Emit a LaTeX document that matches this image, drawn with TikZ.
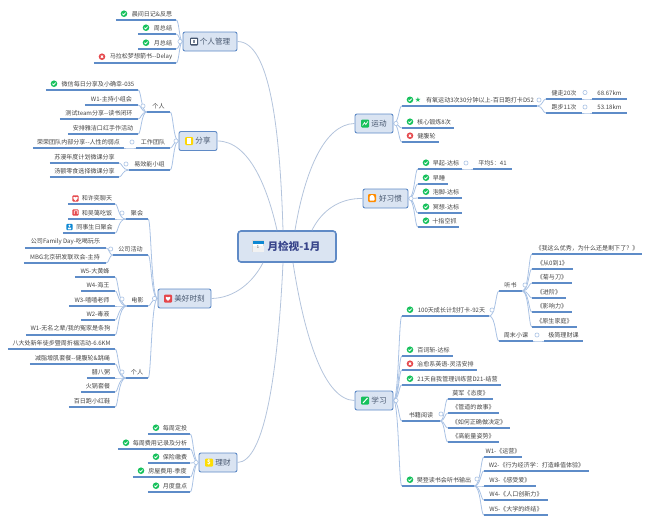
\documentclass[tikz,border=0pt]{standalone}
\usepackage{fontspec}
\setmainfont{Noto Sans CJK SC}
\usetikzlibrary{calc}
\definecolor{uline}{HTML}{5E8CC8}
\definecolor{brline}{HTML}{A9C2E4}
\definecolor{rtline}{HTML}{B4C4DC}
\definecolor{boxfill}{HTML}{DAE4F2}
\definecolor{boxdraw}{HTML}{5F8AC6}
\definecolor{txt}{HTML}{444444}
\definecolor{toptxt}{HTML}{46566E}
\definecolor{oki}{HTML}{16C15C}
\definecolor{noi}{HTML}{E5474B}
\tikzset{
  x=1pt,y=-1pt,
  leaf/.style={anchor=south,inner sep=0pt,minimum height=12pt,font=\fontsize{6.05}{7}\selectfont,text=txt},
  ulinepath/.style={draw=uline,line width=1.1pt},
  conn/.style={draw=brline,line width=.8pt},
  rootconn/.style={draw=rtline,line width=.8pt},
  topic/.style={draw=boxdraw,fill=boxfill,rounded corners=2pt,line width=.9pt,inner sep=0pt,minimum height=19pt,font=\fontsize{7.6}{9}\selectfont,text=toptxt},
  rootbox/.style={draw=boxdraw,fill=boxfill,rounded corners=3pt,line width=1.6pt,inner sep=0pt,minimum width=98pt,minimum height=31pt,font=\fontsize{10.6}{12}\bfseries\selectfont,text=toptxt!80!blue},
  knob/.style={circle,draw=brline,fill=white,line width=.6pt,inner sep=0pt,minimum size=4.2pt},
  ic/.style={rounded corners=1pt}
}
% leaves
\newcommand\lf[5]{\node[leaf,minimum width={#3-#2}] (#1) at ({(#2+#3)/2},#4) {#5};\draw[ulinepath] (#1.south west) -- (#1.south east);}
\newcommand\okat[2]{\begin{scope}[shift={(#1,#2)}]\fill[oki] (0,0) circle (3.3);\draw[white,line width=.8pt] (-1.6,0) -- (-.4,1.2) -- (1.7,-1.1);\end{scope}}
\newcommand\noat[2]{\begin{scope}[shift={(#1,#2)}]\fill[noi] (0,0) circle (3.3);\draw[white,line width=.8pt] (-1.2,-1.2) -- (1.2,1.2) (-1.2,1.2) -- (1.2,-1.2);\end{scope}}
\newcommand\lfok[5]{\lf{#1}{#2}{#3}{#4}{\hspace*{12pt}#5}\okat{#2+8}{#4-6.3}}
\newcommand\lfno[5]{\lf{#1}{#2}{#3}{#4}{\hspace*{12pt}#5}\noat{#2+8}{#4-6.3}}
% connectors
\newcommand\cR[2]{\draw[conn] (#1) .. controls ([xshift=-3pt]#2.south west |- #1) and ([xshift=-3pt]#2.south west) .. (#2.south west);}
\newcommand\cL[2]{\draw[conn] (#1) .. controls ([xshift=3pt]#2.south east |- #1) and ([xshift=3pt]#2.south east) .. (#2.south east);}
\newcommand\sq[4]{\fill[#4,ic] (#1-#3,#2-#3) rectangle (#1+#3,#2+#3);}
\begin{document}
\begin{tikzpicture}
\useasboundingbox (0,0) rectangle (650,522);
% ---------- root and topics
\node[rootbox] (root) at (287,246.5) {\hspace*{14pt}月检视-1月};
\node[topic,minimum width=54pt] (geren) at (210,41.5) {\hspace*{10pt}个人管理};
\node[topic,minimum width=38pt] (fenxiang) at (198,141) {\hspace*{10pt}分享};
\node[topic,minimum width=53pt] (meihao) at (184.5,298.5) {\hspace*{10pt}美好时刻};
\node[topic,minimum width=38pt] (licai) at (218,462.5) {\hspace*{10pt}理财};
\node[topic,minimum width=38pt] (yundong) at (374,123.5) {\hspace*{10pt}运动};
\node[topic,minimum width=45pt] (xiguan) at (385.5,198.5) {\hspace*{10pt}好习惯};
\node[topic,minimum width=38pt] (xuexi) at (374,400.5) {\hspace*{10pt}学习};
% root connectors
\draw[rootconn] (geren.east) .. controls (270,41.5) and (280,130) .. ([xshift=-4pt]root.north);
\draw[rootconn] (fenxiang.east) .. controls (250,141) and (268,190) .. ([xshift=-10pt]root.north);
\draw[rootconn] (yundong.west) .. controls (325,124) and (305,170) .. ([xshift=8pt]root.north);
\draw[rootconn] (xiguan.west) .. controls (340,198) and (322,210) .. ([xshift=25pt]root.north);
\draw[rootconn] (meihao.east) .. controls (235,298) and (253,282) .. ([xshift=-24pt]root.south);
\draw[rootconn] (licai.east) .. controls (265,462) and (278,370) .. ([xshift=-4pt]root.south);
\draw[rootconn] (xuexi.west) .. controls (325,400) and (305,340) .. ([xshift=6pt]root.south);
% topic icons
\begin{scope}[shift={(258,246)}]
  \fill[white,draw=black!15,line width=.2pt] (-5.5,-5.5) rectangle (5.5,5.5);
  \fill[black!5] (-5.5,0) rectangle (5.5,5.5);
  \fill[cyan!70!blue] (-5.5,-5.5) rectangle (5.5,-2.2);
  \node[inner sep=0pt,font=\fontsize{4}{4}\selectfont,text=black!70] (calone) at (0,1.5) {1};
\end{scope}
\begin{scope}[shift={(194,41.5)}]
  \fill[toptxt,ic] (-4,-4) rectangle (4,4);\fill[white] (-2.6,-2.6) rectangle (2.6,2.6);\fill[toptxt!70] (-1.2,-1.2) rectangle (1.2,1.2);
\end{scope}
\begin{scope}[shift={(189,141)}]
  \fill[yellow!75!orange,ic] (-4,-4) rectangle (4,4);\fill[white] (-1.8,-3) rectangle (-.4,3);\fill[white] (.4,-3) rectangle (1.8,3);
\end{scope}
\newcommand\heartat[2]{\begin{scope}[shift={(#1,#2)}]\fill[white] (0,2.4) .. controls (-4,-.4) and (-2,-3) .. (0,-1.1) .. controls (2,-3) and (4,-.4) .. (0,2.4);\end{scope}}
\sq{168}{298.5}{4}{noi}\heartat{168}{298.5}
\sq{209}{462.5}{4}{yellow!80!orange}
\node[inner sep=0pt,font=\fontsize{6}{6}\bfseries\selectfont,text=white] (dollar) at (209,462.5) {\$};
\sq{365}{123.5}{4}{oki}
\draw[white,line width=.7pt] (362.5,125.5) -- (364.5,122.5) -- (365.8,124.5) -- (367.8,121.5);
\sq{372}{198}{4}{orange!90!yellow}
\fill[white,rounded corners=.6pt] (369.5,197) -- (371,195) -- (373,195) -- (374.5,197) -- (374.5,200.5) -- (369.5,200.5) -- cycle;
\sq{365}{400.5}{4}{oki}
\draw[white,line width=1pt] (363,403) -- (367.5,398);
% ---------- 个人管理
\lfok{a1}{116}{176}{20}{晨间日记\&反思}
\lfok{a2}{138}{176}{34}{周总结}
\lfok{a3}{138}{176}{49}{月总结}
\lfno{a4}{94}{176}{63}{马拉松梦想箭书-{}-Delay}
\foreach \c in {a1,a2,a3,a4}{\cL{geren.west}{\c}}
\node[knob] (ka) at (180,41.5) {};
% ---------- 分享
\lf{b1}{147}{170}{112}{个人}
\lf{b2}{136}{170}{148}{工作团队}
\lf{b3}{129}{170}{170}{易效能小组}
\foreach \c in {b1,b2,b3}{\cL{fenxiang.west}{\c}}
\node[knob] (kb) at (176,141) {};
\lfok{b11}{46}{138}{90}{微信每日分享及小确幸-035}
\lf{b12}{85}{138}{105}{W1-主持小组会}
\lf{b13}{60}{138}{119}{测试team分享-{}-读书闭环}
\lf{b14}{68}{138}{134}{安排雅洁口红手作活动}
\foreach \c in {b11,b12,b13,b14}{\cL{b1.south west}{\c}}
\node[knob] (kb1) at (143,106) {};
\lf{b21}{33}{124}{148}{荣荣团队内部分享-{}-人性的弱点}
\cL{b2.south west}{b21}
\node[knob] (kb2) at (132,142) {};
\lf{b31}{50}{119}{163}{苏漫年度计划微课分享}
\lf{b32}{50}{119}{177}{汤额零食选择微课分享}
\foreach \c in {b31,b32}{\cL{b3.south west}{\c}}
\node[knob] (kb3) at (126,164) {};
% ---------- 美好时刻
\lf{c1}{126}{148}{219}{聚会}
\lf{c2}{113}{148}{255}{公司活动}
\lf{c3}{127}{148}{306}{电影}
\lf{c4}{126}{148}{378}{个人}
\foreach \c in {c1,c2,c3,c4}{\cL{meihao.west}{\c}}
\node[knob] (kc) at (154.5,298.5) {};
\lf{c11}{68}{115}{204}{\hspace*{11pt}和许奕聊天}
\lf{c12}{68}{115}{219}{\hspace*{11pt}和吴蔼吃饭}
\lf{c13}{63}{115}{233}{\hspace*{11pt}同事生日聚会}
\sq{75.5}{198.5}{3.2}{noi}\heartat{75.5}{198.5}
\sq{75.5}{212.5}{3.2}{noi}
\draw[white,line width=.6pt] (74.2,214.2) -- (74.2,211) -- (77.2,210.6) -- (77.2,213.8);
\sq{69.5}{227}{3.2}{cyan!70!blue}
\fill[white] (69.5,225.8) circle (1.1) (67.8,229.4) rectangle (71.2,227.6);
\foreach \c in {c11,c12,c13}{\cL{c1.south west}{\c}}
\node[knob] (kc1) at (122,213) {};
\lf{c21}{25}{106}{248}{公司Family Day-吃喝玩乐}
\lf{c22}{24}{106}{263}{MBG北京研发联欢会-主持}
\foreach \c in {c21,c22}{\cL{c2.south west}{\c}}
\node[knob] (kc2) at (110.7,249) {};
\lf{c31}{75}{115}{277}{W5-大黄蜂}
\lf{c32}{81}{115}{291}{W4-海王}
\lf{c33}{69}{115}{306}{W3-嘻嘻老师}
\lf{c34}{81}{115}{320}{W2-毒液}
\lf{c35}{26}{115}{335}{W1-无名之辈/我的冤家是条狗}
\foreach \c in {c31,c32,c33,c34,c35}{\cL{c3.south west}{\c}}
\node[knob] (kc3) at (122,299) {};
\lf{c41}{8}{115}{349}{八大处新年徒步暨周折福活动-6.6KM}
\lf{c42}{30}{115}{364}{减脂增肌套餐-{}-健腹轮\&跳绳}
\lf{c43}{87}{115}{378}{腊八粥}
\lf{c44}{81}{115}{392}{火锅套餐}
\lf{c45}{69}{115}{407}{百日跑小红鞋}
\foreach \c in {c41,c42,c43,c44,c45}{\cL{c4.south west}{\c}}
\node[knob] (kc4) at (122,372) {};
% ---------- 理财
\lfok{d1}{148}{190}{434}{每周定投}
\lfok{d2}{118}{190}{449}{每周费用记录及分析}
\lfok{d3}{148}{190}{463}{保险缴费}
\lfok{d4}{133}{190}{477}{房屋费用-季度}
\lfok{d5}{148}{190}{492}{月度盘点}
\foreach \c in {d1,d2,d3,d4,d5}{\cL{licai.west}{\c}}
\node[knob] (kd) at (196,462.5) {};
% ---------- 运动
\lf{e1}{402}{537}{106}{\hspace*{21pt}有氧运动3次30分钟以上-百日跑打卡D52}
\okat{410}{99.8}
\node[inner sep=0pt,font=\fontsize{7}{7}\selectfont,text=oki] (star) at (418,99.8) {\fontspec{DejaVu Sans}★};
\lfok{e2}{402}{454}{128}{核心锻炼8次}
\lfno{e3}{402}{439}{142}{健腹轮}
\foreach \c in {e1,e2,e3}{\cR{yundong.east}{\c}}
\node[knob] (ke) at (396,123.5) {};
\lf{e11}{546}{582}{99}{健走20次}
\lf{e12}{546}{582}{113}{跑步11次}
\foreach \c in {e11,e12}{\cR{e1.south east}{\c}}
\node[knob] (ke1) at (539,100) {};
\lf{e111}{592}{627}{99}{68.67km}
\lf{e121}{592}{627}{113}{53.18km}
\cR{e11.south east}{e111}
\cR{e12.south east}{e121}
\node[knob] (ke11) at (585,92.5) {};
\node[knob] (ke12) at (585,107) {};
% ---------- 好习惯
\lfok{f1}{418}{462}{169}{早起-达标}
\lfok{f2}{418}{448}{184}{早睡}
\lfok{f3}{418}{462}{198}{泡脚-达标}
\lfok{f4}{418}{462}{213}{冥想-达标}
\lfok{f5}{418}{459}{227}{十指空抓}
\foreach \c in {f1,f2,f3,f4,f5}{\cR{xiguan.east}{\c}}
\node[knob] (kf) at (411,198.5) {};
\lf{f11}{473}{512}{169}{平均5：41}
\cR{f1.south east}{f11}
\node[knob] (kf1) at (466,163) {};
% ---------- 学习
\lfok{g1}{402}{489}{316}{100天成长计划打卡-92天}
\lfok{g2}{402}{453}{356}{百词斩-达标}
\lfno{g3}{402}{477}{370}{治愈系英语-灵活安排}
\lfok{g4}{402}{501}{385}{21天自我管理训练营D21-结营}
\lf{g5}{402}{440}{421}{书籍阅读}
\lfok{g6}{402}{474}{486}{樊登读书会听书输出}
\foreach \c in {g1,g2,g3,g4,g5,g6}{\cR{xuexi.east}{\c}}
\node[knob] (kg) at (396,400.5) {};
\lf{g11}{499}{522}{291}{听书}
\lf{g12}{499}{533}{341}{周末小课}
\foreach \c in {g11,g12}{\cR{g1.south east}{\c}}
\node[knob] (kg1) at (492,310) {};
\lf{g111}{532}{642}{254}{《我这么优秀，为什么还是剩下了？》}
\lf{g112}{532}{573}{269}{《从0到1》}
\lf{g113}{532}{572}{283}{《菊与刀》}
\lf{g114}{532}{566}{298}{《进阶》}
\lf{g115}{532}{572}{312}{《影响力》}
\lf{g116}{532}{577}{327}{《原生家庭》}
\foreach \c in {g111,g112,g113,g114,g115,g116}{\cR{g11.south east}{\c}}
\node[knob] (kg11) at (525,285) {};
\lf{g121}{544}{583}{341}{极简理财课}
\cR{g12.south east}{g121}
\node[knob] (kg12) at (537,335) {};
\lf{g51}{448}{493}{399}{莫军《态度》}
\lf{g52}{448}{499}{413}{《管道的故事》}
\lf{g53}{448}{510}{428}{《如何正确做决定》}
\lf{g54}{448}{499}{442}{《高能量姿势》}
\foreach \c in {g51,g52,g53,g54}{\cR{g5.south east}{\c}}
\node[knob] (kg5) at (441,414) {};
\lf{g61}{484}{522}{457}{W1-《运营》}
\lf{g62}{484}{589}{471}{W2-《行为经济学：打造峰值体验》}
\lf{g63}{484}{536}{486}{W3-《感受爱》}
\lf{g64}{484}{548}{500}{W4-《人口创新力》}
\lf{g65}{484}{548}{515}{W5-《大学的终结》}
\foreach \c in {g61,g62,g63,g64,g65}{\cR{g6.south east}{\c}}
\node[knob] (kg6) at (477,479) {};
\end{tikzpicture}
\end{document}
